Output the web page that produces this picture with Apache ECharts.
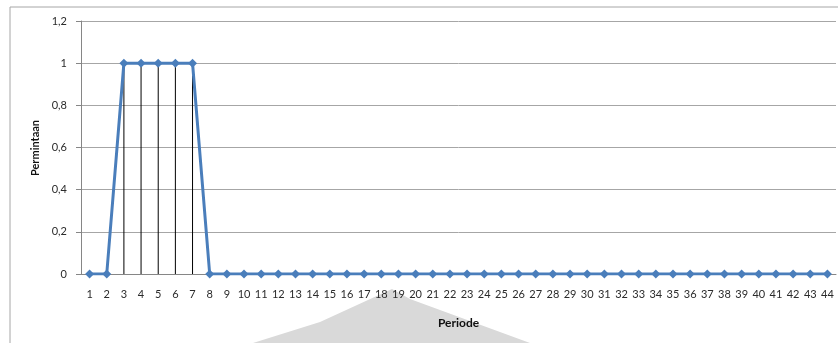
<!DOCTYPE html>
<html>
<head>
<meta charset="utf-8">
<script src="https://cdn.jsdelivr.net/npm/echarts@6/dist/echarts.min.js"></script>
<style>
  html, body { margin: 0; padding: 0; background: #fff; }
  #chart { width: 838px; height: 343px; }
</style>
</head>
<body>
<div id="chart"></div>
<script>
// Periods 1..44 and demand per period
const periods = ['1','2','3','4','5','6','7','8','9','10','11','12','13','14','15','16','17','18','19','20','21','22','23','24','25','26','27','28','29','30','31','32','33','34','35','36','37','38','39','40','41','42','43','44'];
const permintaan = [0,0,1,1,1,1,1,0,0,0,0,0,0,0,0,0,0,0,0,0,0,0,0,0,0,0,0,0,0,0,0,0,0,0,0,0,0,0,0,0,0,0,0,0];
const yTickLabels = ['0','0,2','0,4','0,6','0,8','1','1,2'];

const FONT = 'Lato, "Open Sans", sans-serif';
const chart = echarts.init(document.getElementById('chart'), null, { renderer: 'canvas' });

chart.setOption({
  animation: false,
  backgroundColor: '#fff',
  grid: { left: 81, top: 21, width: 755, height: 253, containLabel: false },
  xAxis: {
    type: 'category',
    data: periods,
    boundaryGap: true,
    name: 'Periode',
    nameLocation: 'middle',
    nameGap: 43,
    nameTextStyle: { fontFamily: FONT, fontSize: 12, fontWeight: 'bold', color: '#111' },
    axisLine: { lineStyle: { color: '#868686', width: 1 } },
    axisTick: { show: false },
    axisLabel: { fontFamily: FONT, fontSize: 11, color: '#2b2b2b', margin: 15, interval: 0 },
    splitLine: { show: false }
  },
  yAxis: {
    type: 'value',
    min: 0,
    max: 1.2,
    interval: 0.2,
    axisLine: { show: true, lineStyle: { color: '#868686', width: 1 } },
    axisTick: { show: true, inside: false, length: 5, lineStyle: { color: '#868686' } },
    axisLabel: {
      fontFamily: FONT, fontSize: 11, color: '#2b2b2b', margin: 14,
      formatter: v => yTickLabels[Math.round(v / 0.2)]
    },
    splitLine: { show: true, lineStyle: { color: '#a6a6a6', width: 1 } }
  },
  series: [
    {
      // drop lines from each point down to the axis
      type: 'bar',
      data: permintaan,
      barWidth: 1,
      itemStyle: { color: '#000' },
      silent: true,
      z: 2
    },
    {
      type: 'line',
      data: permintaan,
      symbol: 'diamond',
      symbolSize: 9,
      lineStyle: { color: '#4a7ebb', width: 3 },
      itemStyle: { color: '#4a7ebb' },
      z: 3
    }
  ],
  graphic: [
    {
      type: 'polyline',
      silent: true,
      z: -1,
      shape: { points: [[10, 343], [10, 7], [838, 7]] },
      style: { stroke: '#a6a6a6', lineWidth: 1, fill: null }
    },
    {
      type: 'polygon',
      silent: true,
      z: -1,
      shape: { points: [[253, 343], [320, 322], [392, 289], [410, 299], [530, 343]] },
      style: { fill: '#d9d9d9' }
    },
    {
      type: 'text',
      x: 35,
      y: 148,
      rotation: Math.PI / 2,
      style: {
        text: 'Permintaan',
        fontFamily: FONT,
        fontSize: 11,
        fontWeight: 'bold',
        fill: '#111',
        align: 'center',
        verticalAlign: 'middle'
      }
    }
  ]
});
</script>
</body>
</html>
